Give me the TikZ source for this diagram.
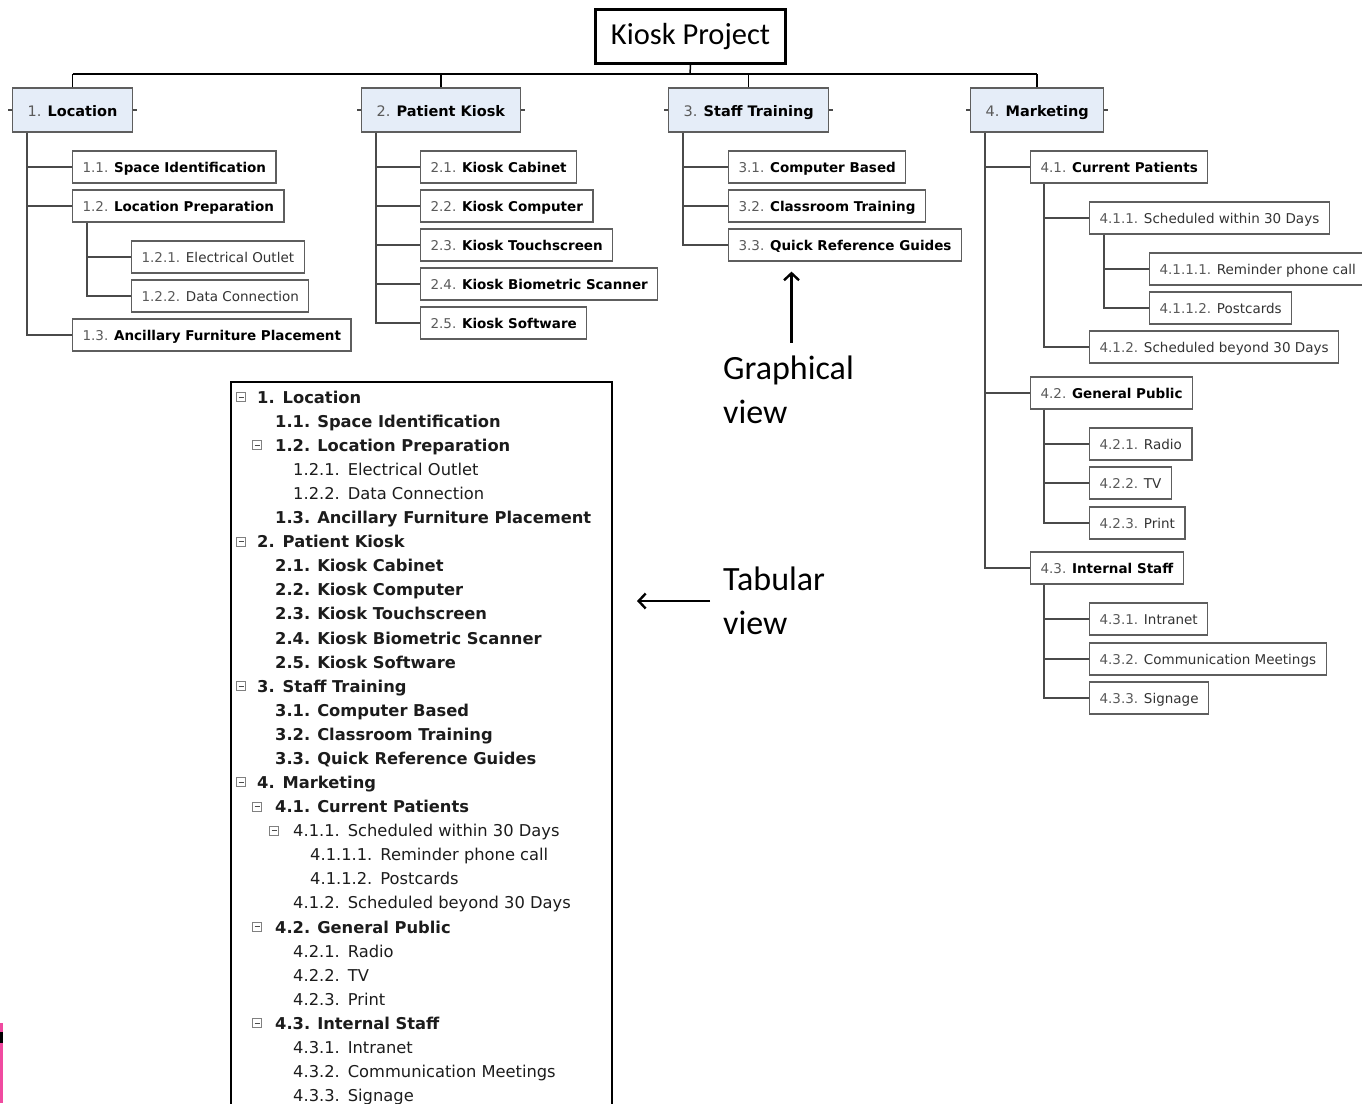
\documentclass[tikz,border=0pt]{standalone}
\usepackage{fontspec}
\setmainfont{DejaVu Sans}
\newfontfamily\calibri{Carlito}
\usetikzlibrary{arrows, arrows.meta, positioning}

\definecolor{lvlblue}{HTML}{E5EDF8}
\definecolor{boxline}{HTML}{5E5E5E}
\definecolor{numgray}{HTML}{5A5A5A}
\definecolor{linkgray}{HTML}{4A4A4A}
\definecolor{tabink}{HTML}{1C1C1C}
\definecolor{subink}{HTML}{333333}
\definecolor{artpink}{HTML}{F04AA0}

\begin{document}
\begin{tikzpicture}[x=1pt, y=-1pt]
    \tikzstyle{topbox}=[draw, line width=3pt, minimum width=190pt, minimum height=54pt, font=\calibri\fontsize{30.5}{34}\selectfont]
    \tikzstyle{mainbox}=[draw=boxline, fill=lvlblue, line width=1.3pt, anchor=west, minimum height=44pt, inner xsep=15pt, text height=14pt, text depth=2pt, font=\fontsize{14.5}{17}\selectfont]
    \tikzstyle{subbox}=[draw=boxline, fill=white, line width=1.2pt, anchor=west, minimum height=32pt, inner xsep=10pt, text height=13pt, text depth=2pt, text=subink, font=\fontsize{13.5}{16}\selectfont]
    \tikzstyle{link}=[draw=linkgray, line width=1.3pt]
    \tikzstyle{pointer}=[-{Straight Barb[length=7pt, width=15pt]}, line width=2.4pt]
    \tikzstyle{tabrow}=[anchor=west, inner sep=0pt, text height=15pt, text depth=2.5pt, text=tabink, font=\fontsize{16.3}{18}\selectfont]
    \tikzstyle{togglebox}=[draw=gray, line width=0.8pt, minimum size=9pt, inner sep=0pt,
        path picture={\draw[black!70, line width=0.9pt] ([xshift=2pt]path picture bounding box.west) -- ([xshift=-2pt]path picture bounding box.east);}]
    \tikzstyle{bigtext}=[anchor=west, align=left, inner sep=0pt, font=\calibri\fontsize{34}{44}\selectfont]

    \useasboundingbox (0,0) rectangle (1362,1103);

    % graphical view
    \node[topbox] (project) at (690.5,36.5) {Kiosk Project};
    \coordinate (bus) at (690,74);

    \node[mainbox] (locBox) at (12,110) {\textcolor{numgray}{1.} \textbf{Location}};
    \node[mainbox] (kioskBox) at (361,110) {\textcolor{numgray}{2.} \textbf{Patient Kiosk}};
    \node[mainbox] (trainBox) at (668,110) {\textcolor{numgray}{3.} \textbf{Staff Training}};
    \node[mainbox] (mktBox) at (970,110) {\textcolor{numgray}{4.} \textbf{Marketing}};

    \draw[black, line width=1.5pt] (project.south) -- (bus);
    \draw[black, line width=2.8pt] (locBox.north |- bus) -- (mktBox.north |- bus);
    \draw[black, line width=1.4pt] (locBox.north) -- (locBox.north |- bus);
    \draw[black, line width=1.4pt] (kioskBox.north) -- (kioskBox.north |- bus);
    \draw[black, line width=1.4pt] (trainBox.north) -- (trainBox.north |- bus);
    \draw[black, line width=1.4pt] (mktBox.north) -- (mktBox.north |- bus);

    \draw[link] (locBox.west) -- ++(-4,0);
    \draw[link] (locBox.east) -- ++(4,0);
    \draw[link] (kioskBox.west) -- ++(-4,0);
    \draw[link] (kioskBox.east) -- ++(4,0);
    \draw[link] (trainBox.west) -- ++(-4,0);
    \draw[link] (trainBox.east) -- ++(4,0);
    \draw[link] (mktBox.west) -- ++(-4,0);
    \draw[link] (mktBox.east) -- ++(4,0);

    % 1. Location
    \node[subbox] (n11) at (72,167) {\textcolor{numgray}{1.1.} \textbf{\color{black}Space Identification}};
    \node[subbox] (n12) at (72,206) {\textcolor{numgray}{1.2.} \textbf{\color{black}Location Preparation}};
    \node[subbox] (n121) at (131,257) {\textcolor{numgray}{1.2.1.} Electrical Outlet};
    \node[subbox] (n122) at (131,296) {\textcolor{numgray}{1.2.2.} Data Connection};
    \node[subbox] (n13) at (72,335) {\textcolor{numgray}{1.3.} \textbf{\color{black}Ancillary Furniture Placement}};

    \draw[link] ([xshift=15pt]locBox.south west) |- (n11.west);
    \draw[link] ([xshift=15pt]locBox.south west) |- (n12.west);
    \draw[link] ([xshift=15pt]locBox.south west) |- (n13.west);
    \draw[link] ([xshift=15pt]n12.south west) |- (n121.west);
    \draw[link] ([xshift=15pt]n12.south west) |- (n122.west);

    % 2. Patient Kiosk
    \node[subbox] (n21) at (420,167) {\textcolor{numgray}{2.1.} \textbf{\color{black}Kiosk Cabinet}};
    \node[subbox] (n22) at (420,206) {\textcolor{numgray}{2.2.} \textbf{\color{black}Kiosk Computer}};
    \node[subbox] (n23) at (420,245) {\textcolor{numgray}{2.3.} \textbf{\color{black}Kiosk Touchscreen}};
    \node[subbox] (n24) at (420,284) {\textcolor{numgray}{2.4.} \textbf{\color{black}Kiosk Biometric Scanner}};
    \node[subbox] (n25) at (420,323) {\textcolor{numgray}{2.5.} \textbf{\color{black}Kiosk Software}};

    \draw[link] ([xshift=15pt]kioskBox.south west) |- (n21.west);
    \draw[link] ([xshift=15pt]kioskBox.south west) |- (n22.west);
    \draw[link] ([xshift=15pt]kioskBox.south west) |- (n23.west);
    \draw[link] ([xshift=15pt]kioskBox.south west) |- (n24.west);
    \draw[link] ([xshift=15pt]kioskBox.south west) |- (n25.west);

    % 3. Staff Training
    \node[subbox] (n31) at (728,167) {\textcolor{numgray}{3.1.} \textbf{\color{black}Computer Based}};
    \node[subbox] (n32) at (728,206) {\textcolor{numgray}{3.2.} \textbf{\color{black}Classroom Training}};
    \node[subbox] (n33) at (728,245) {\textcolor{numgray}{3.3.} \textbf{\color{black}Quick Reference Guides}};

    \draw[link] ([xshift=15pt]trainBox.south west) |- (n31.west);
    \draw[link] ([xshift=15pt]trainBox.south west) |- (n32.west);
    \draw[link] ([xshift=15pt]trainBox.south west) |- (n33.west);

    % 4. Marketing
    \node[subbox] (n41) at (1030,167) {\textcolor{numgray}{4.1.} \textbf{\color{black}Current Patients}};
    \node[subbox] (n411) at (1089,218) {\textcolor{numgray}{4.1.1.} Scheduled within 30 Days};
    \node[subbox] (n4111) at (1149,269) {\textcolor{numgray}{4.1.1.1.} Reminder phone call};
    \node[subbox] (n4112) at (1149,308) {\textcolor{numgray}{4.1.1.2.} Postcards};
    \node[subbox] (n412) at (1089,347) {\textcolor{numgray}{4.1.2.} Scheduled beyond 30 Days};
    \node[subbox] (n42) at (1030,393) {\textcolor{numgray}{4.2.} \textbf{\color{black}General Public}};
    \node[subbox] (n421) at (1089,444) {\textcolor{numgray}{4.2.1.} Radio};
    \node[subbox] (n422) at (1089,483) {\textcolor{numgray}{4.2.2.} TV};
    \node[subbox] (n423) at (1089,523) {\textcolor{numgray}{4.2.3.} Print};
    \node[subbox] (n43) at (1030,568) {\textcolor{numgray}{4.3.} \textbf{\color{black}Internal Staff}};
    \node[subbox] (n431) at (1089,619) {\textcolor{numgray}{4.3.1.} Intranet};
    \node[subbox] (n432) at (1089,659) {\textcolor{numgray}{4.3.2.} Communication Meetings};
    \node[subbox] (n433) at (1089,698) {\textcolor{numgray}{4.3.3.} Signage};

    \draw[link] ([xshift=15pt]mktBox.south west) |- (n41.west);
    \draw[link] ([xshift=15pt]mktBox.south west) |- (n42.west);
    \draw[link] ([xshift=15pt]mktBox.south west) |- (n43.west);
    \draw[link] ([xshift=14pt]n41.south west) |- (n411.west);
    \draw[link] ([xshift=14pt]n41.south west) |- (n412.west);
    \draw[link] ([xshift=15pt]n411.south west) |- (n4111.west);
    \draw[link] ([xshift=15pt]n411.south west) |- (n4112.west);
    \draw[link] ([xshift=14pt]n42.south west) |- (n421.west);
    \draw[link] ([xshift=14pt]n42.south west) |- (n422.west);
    \draw[link] ([xshift=14pt]n42.south west) |- (n423.west);
    \draw[link] ([xshift=14pt]n43.south west) |- (n431.west);
    \draw[link] ([xshift=14pt]n43.south west) |- (n432.west);
    \draw[link] ([xshift=14pt]n43.south west) |- (n433.west);

    % labels with arrows
    \node[bigtext] (graphLbl) at (723,390) {Graphical\\view};
    \node[bigtext] (tabLbl) at (723,601) {Tabular\\view};
    \coordinate (tabTip) at (637,601);
    \draw[pointer, shorten <=13pt, shorten >=10pt] ([xshift=3pt]graphLbl.north) -- ([xshift=3pt]graphLbl.north |- n33.south);
    \draw[pointer, shorten <=13pt] (tabLbl.west) -- (tabTip);

    % tabular view
    \draw[line width=1.4pt] (231,1110) -- (231,382) -- (612,382) -- (612,1110);

    \node[togglebox] (tg1) at (241,397) {};
    \node[togglebox] (tg12) at (257,445.2) {};
    \node[togglebox] (tg2) at (241,541.5) {};
    \node[togglebox] (tg3) at (241,686) {};
    \node[togglebox] (tg4) at (241,782.3) {};
    \node[togglebox] (tg41) at (257,806.4) {};
    \node[togglebox] (tg411) at (274,830.4) {};
    \node[togglebox] (tg42) at (257,926.8) {};
    \node[togglebox] (tg43) at (257,1023.1) {};

    \node[tabrow] (tab1) at (257,397) {\textbf{1.}\hspace{8pt}\textbf{Location}};
    \node[tabrow] (tab11) at (275,421.1) {\textbf{1.1.}\hspace{7pt}\textbf{Space Identification}};
    \node[tabrow] (tab12) at (275,445.2) {\textbf{1.2.}\hspace{7pt}\textbf{Location Preparation}};
    \node[tabrow] (tab121) at (293,469.2) {1.2.1.\hspace{8pt}Electrical Outlet};
    \node[tabrow] (tab122) at (293,493.3) {1.2.2.\hspace{8pt}Data Connection};
    \node[tabrow] (tab13) at (275,517.4) {\textbf{1.3.}\hspace{7pt}\textbf{Ancillary Furniture Placement}};
    \node[tabrow] (tab2) at (257,541.5) {\textbf{2.}\hspace{8pt}\textbf{Patient Kiosk}};
    \node[tabrow] (tab21) at (275,565.6) {\textbf{2.1.}\hspace{7pt}\textbf{Kiosk Cabinet}};
    \node[tabrow] (tab22) at (275,589.6) {\textbf{2.2.}\hspace{7pt}\textbf{Kiosk Computer}};
    \node[tabrow] (tab23) at (275,613.7) {\textbf{2.3.}\hspace{7pt}\textbf{Kiosk Touchscreen}};
    \node[tabrow] (tab24) at (275,637.8) {\textbf{2.4.}\hspace{7pt}\textbf{Kiosk Biometric Scanner}};
    \node[tabrow] (tab25) at (275,661.9) {\textbf{2.5.}\hspace{7pt}\textbf{Kiosk Software}};
    \node[tabrow] (tab3) at (257,686) {\textbf{3.}\hspace{8pt}\textbf{Staff Training}};
    \node[tabrow] (tab31) at (275,710) {\textbf{3.1.}\hspace{7pt}\textbf{Computer Based}};
    \node[tabrow] (tab32) at (275,734.1) {\textbf{3.2.}\hspace{7pt}\textbf{Classroom Training}};
    \node[tabrow] (tab33) at (275,758.2) {\textbf{3.3.}\hspace{7pt}\textbf{Quick Reference Guides}};
    \node[tabrow] (tab4) at (257,782.3) {\textbf{4.}\hspace{8pt}\textbf{Marketing}};
    \node[tabrow] (tab41) at (275,806.4) {\textbf{4.1.}\hspace{7pt}\textbf{Current Patients}};
    \node[tabrow] (tab411) at (293,830.4) {4.1.1.\hspace{8pt}Scheduled within 30 Days};
    \node[tabrow] (tab4111) at (310,854.5) {4.1.1.1.\hspace{8pt}Reminder phone call};
    \node[tabrow] (tab4112) at (310,878.6) {4.1.1.2.\hspace{8pt}Postcards};
    \node[tabrow] (tab412) at (293,902.7) {4.1.2.\hspace{8pt}Scheduled beyond 30 Days};
    \node[tabrow] (tab42) at (275,926.8) {\textbf{4.2.}\hspace{7pt}\textbf{General Public}};
    \node[tabrow] (tab421) at (293,950.8) {4.2.1.\hspace{8pt}Radio};
    \node[tabrow] (tab422) at (293,974.9) {4.2.2.\hspace{8pt}TV};
    \node[tabrow] (tab423) at (293,999) {4.2.3.\hspace{8pt}Print};
    \node[tabrow] (tab43) at (275,1023.1) {\textbf{4.3.}\hspace{7pt}\textbf{Internal Staff}};
    \node[tabrow] (tab431) at (293,1047.2) {4.3.1.\hspace{8pt}Intranet};
    \node[tabrow] (tab432) at (293,1071.2) {4.3.2.\hspace{8pt}Communication Meetings};
    \node[tabrow] (tab433) at (293,1095.3) {4.3.3.\hspace{8pt}Signage};

    % edge artefact at lower left
    \fill[artpink] (0,1023) rectangle (2.5,1103);
    \fill[black] (0,1032) rectangle (2.5,1043);
\end{tikzpicture}
\end{document}
